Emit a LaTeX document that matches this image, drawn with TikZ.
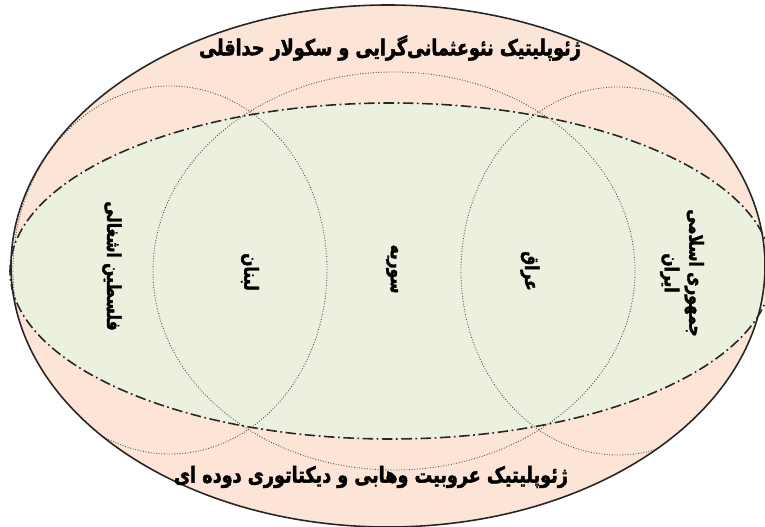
\documentclass[tikz,border=0pt]{standalone}
\usepackage{fontspec}
\newfontfamily\farsi[Script=Arabic, FakeStretch=0.8, FakeBold=2]{DejaVu Sans}
\TeXXeTstate=1
\definecolor{peach}{RGB}{252,229,214}
\definecolor{sage}{RGB}{235,241,222}
\tikzset{
  rim/.style={draw=black!85, line width=.9pt},
  circ/.style={draw=black!70, densely dotted, line width=.5pt},
  txt/.style={font=\farsi\bfseries\fontsize{11}{14}\selectfont, align=center, inner sep=0pt},
  bigtxt/.style={txt, font=\farsi\bfseries\fontsize{12.5}{15}\selectfont},
}

\begin{document}
\begin{tikzpicture}
\useasboundingbox (0,0) rectangle (15.3,10.54);
\fill[peach] (7.76,5.22) ellipse (7.54 and 5.22);
\fill[sage] (7.82,5.12) ellipse (7.62 and 3.36);
\begin{scope}
\clip (7.76,5.22) ellipse (7.54 and 5.22);
\draw[circ] (3.40,5.14) ellipse (3.14 and 3.68);
\draw[circ] (7.88,5.12) ellipse (4.82 and 3.98);
\draw[circ] (12.36,5.12) ellipse (3.14 and 3.68);
\end{scope}
\draw[rim, dash pattern=on 6pt off 2pt on 1pt off 2pt] (7.82,5.12) ellipse (7.62 and 3.36);
\draw[rim] (7.76,5.22) ellipse (7.54 and 5.22);
\node[bigtxt] (neo) at (7.80,9.58) {\beginR ژئوپلیتیک نئوعثمانی‌گرایی و سکولار حداقلی\endR};
\node[bigtxt] (wahabi) at (7.42,1.00) {\beginR ژئوپلیتیک عروبیت وهابی و دیکتاتوری دوده ای\endR};
\node[txt, rotate=-90] (palestine) at (2.24,5.22) {\beginR فلسطین اشغالی\endR};
\node[txt, rotate=-90] (lebanon) at (5.00,5.10) {\beginR لبنان\endR};
\node[txt, rotate=-90] (syria) at (7.84,5.16) {\beginR سوریه\endR};
\node[txt, rotate=-90] (iraq) at (10.60,5.12) {\beginR عراق\endR};
\node[txt, rotate=-90] (iran) at (13.64,5.08) {\beginR جمهوری اسلامی\endR\\\beginR ایران\endR};
\end{tikzpicture}
\end{document}
